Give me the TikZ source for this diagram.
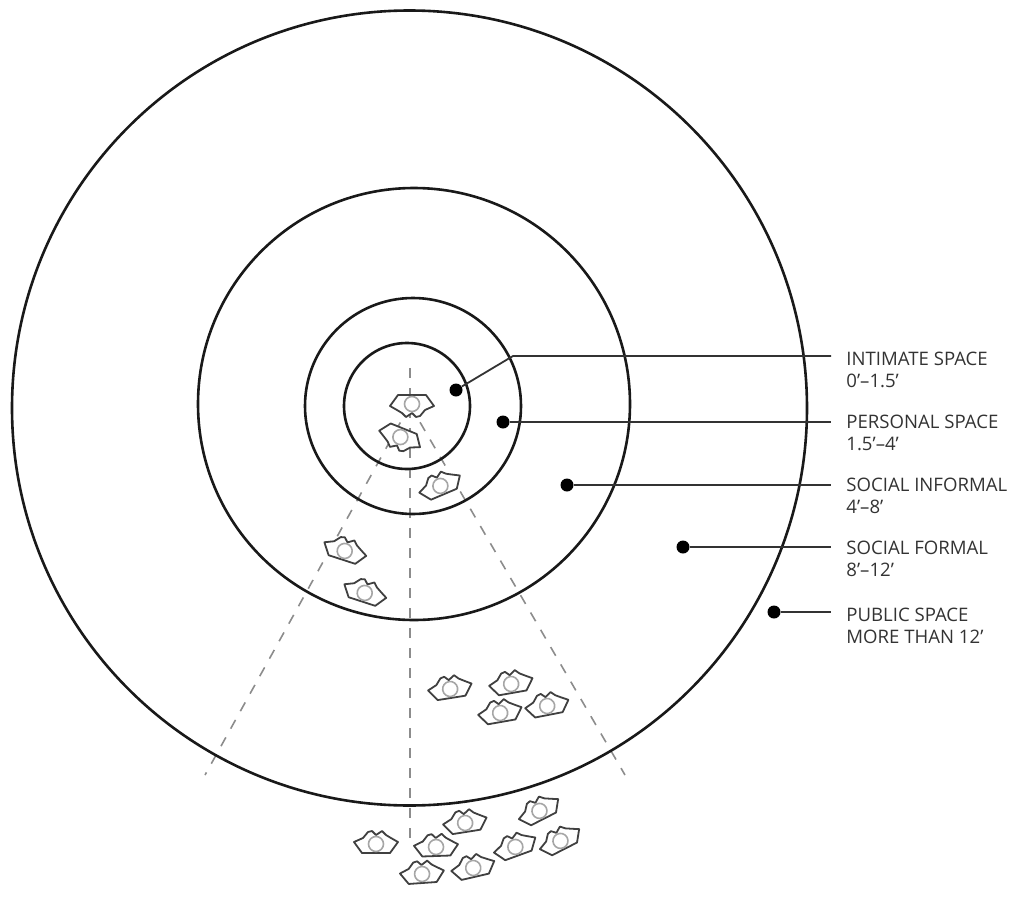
\documentclass[tikz,border=0pt]{standalone}
\usepackage{fontspec}
\setmainfont{Open Sans}
\usepackage{tikz}
\usetikzlibrary{positioning,calc}
\begin{document}
\begin{tikzpicture}[
  x=0.5pt, y=-0.5pt,
  ring/.style={draw=black!90, line width=1.3pt},
  guide/.style={draw=black!45, line width=0.8pt, dash pattern=on 5pt off 5pt},
  lead/.style={draw=black!80, line width=0.9pt},
  dot/.style={circle, fill=black, inner sep=0pt, minimum size=6.5pt},
  lab/.style={font=\fontsize{9.3}{11.2}\selectfont, align=left, anchor=west, inner sep=0pt, text=black!80},
  person/.pic={
    \draw[black!75, line width=0.9pt, line join=round, fill=white]
      (-22,-1) -- (-13,-5) -- (-8,-11) -- (-4,-12) -- (0,-8) -- (6,-12) -- (10,-8) -- (15,-5) -- (22,-1) -- (14,10) -- (-14,10) -- cycle;
    \draw[black!35, line width=0.8pt] (0,1) circle (7.5);
  }]
  \useasboundingbox (0,0) rectangle (1024,900);
  % dashed sight lines
  \coordinate (eye) at (410,405);
  \coordinate (top) at (410,368);
  \coordinate (low) at (410,846);
  \coordinate (lowleft) at (205,775);
  \coordinate (lowright) at (625,775);
  \draw[guide] (top) -- (low);
  \draw[guide] (eye) -- (lowleft);
  \draw[guide] (eye) -- (lowright);
  % rings
  \node[ring, circle, inner sep=0pt, minimum size=397.5pt] (public) at (409.5,408) {};
  \node[ring, circle, inner sep=0pt, minimum size=216pt] (social) at (414,404) {};
  \node[ring, circle, inner sep=0pt, minimum size=108pt] (personal) at (413,406) {};
  \node[ring, circle, inner sep=0pt, minimum size=63pt] (intimate) at (407,406) {};
  % people
  \foreach \px/\py/\rot in {412/405/180, 400/438/158, 440/485/23, 345/550/-18, 365/592/-18,
      450/688/9, 511/683/10, 500/712/10, 547/705/11,
      376/843/0, 436/846/2, 422/873/4, 465/822/9, 473/867/13, 515/846/20, 539/810/27, 560/840/27}
    \pic[rotate=\rot, x=0.5pt, y=-0.5pt] at (\px,\py) {person};
  % labels
  \node[lab] (labA) at (846,370) {INTIMATE SPACE\\0'--1.5'};
  \node[lab] (labB) at (846,433) {PERSONAL SPACE\\1.5'--4'};
  \node[lab] (labC) at (846,496) {SOCIAL INFORMAL\\4'--8'};
  \node[lab] (labD) at (846,559) {SOCIAL FORMAL\\8'--12'};
  \node[lab] (labE) at (846,626) {PUBLIC SPACE\\MORE THAN 12'};
  % leaders
  \node[dot] (dotA) at (456,390) {};
  \node[dot] (dotB) at (503,422) {};
  \node[dot] (dotC) at (567,485) {};
  \node[dot] (dotD) at (683,547) {};
  \node[dot] (dotE) at (774,612) {};
  \coordinate (bend) at (513,356);
  \coordinate (endA) at (831,356);
  \coordinate (endB) at (831,422);
  \coordinate (endC) at (831,485);
  \coordinate (endD) at (831,547);
  \coordinate (endE) at (831,612);
  \draw[lead] (dotA) -- (bend) -- (endA);
  \draw[lead] (dotB) -- (endB);
  \draw[lead] (dotC) -- (endC);
  \draw[lead] (dotD) -- (endD);
  \draw[lead] (dotE) -- (endE);
\end{tikzpicture}
\end{document}
